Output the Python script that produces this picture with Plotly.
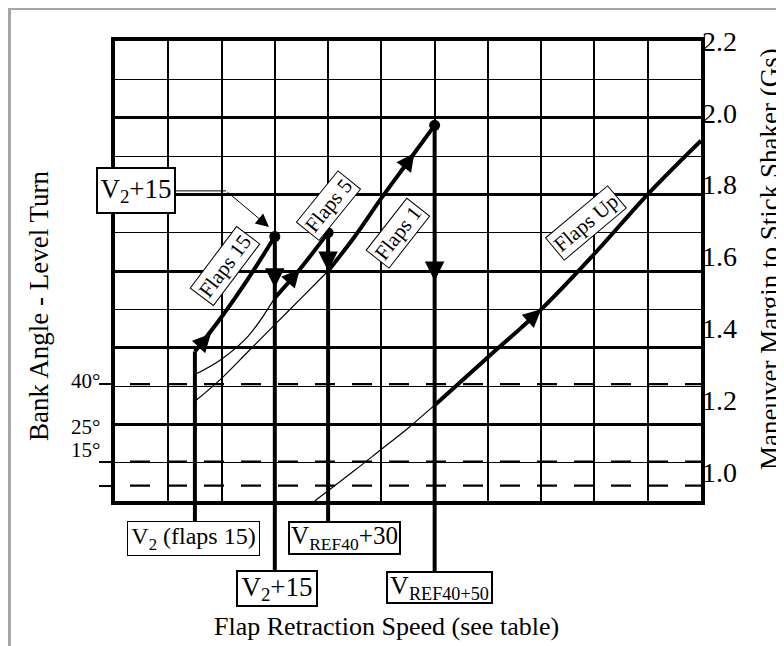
import plotly.graph_objects as go

# ---------------- data (speed in grid units, maneuver margin in G) ----------------
flaps15_speed = [1.5, 2.0, 2.5, 3.0]
flaps15_g = [1.39, 1.48, 1.58, 1.69]

flaps5_ext_speed = [1.5, 2.0, 2.5, 3.0]
flaps5_ext_g = [1.33, 1.37, 1.43, 1.53]
flaps5_speed = [3.0, 3.5, 4.0]
flaps5_g = [1.53, 1.61, 1.70]

flaps1_ext_speed = [1.5, 2.0, 2.5, 3.0, 3.5, 4.0]
flaps1_ext_g = [1.26, 1.32, 1.39, 1.46, 1.53, 1.60]
flaps1_speed = [4.0, 4.5, 5.0, 5.5, 6.0]
flaps1_g = [1.60, 1.69, 1.79, 1.885, 1.98]

flapsup_ext_speed = [3.75, 4.5, 5.0, 5.5, 6.0]
flapsup_ext_g = [1.0, 1.08, 1.135, 1.19, 1.25]
flapsup_speed = [6, 7, 8, 9, 10, 11]
flapsup_g = [1.25, 1.375, 1.50, 1.645, 1.80, 1.94]

# retraction speeds and the levels where the vertical lines stop
retract_names = ["V2 (flaps 15)", "V2+15", "VREF40+30", "VREF40+50"]
retract_speed = [1.5, 3.0, 4.0, 6.0]
retract_top_g = [1.39, 1.69, 1.70, 1.98]
dot_speed = [3.0, 4.0, 6.0]
dot_g = [1.69, 1.70, 1.98]

bank_labels = ["40°", "25°", "15°"]
bank_g = [1.305, 1.103, 1.04]

g_ticks = [1.0, 1.2, 1.4, 1.6, 1.8, 2.0, 2.2]
g_ticktext = ["1.0", "1.2", "1.4", "1.6", "1.8", "2.0", "2.2"]

# -----------------------------------------------------------------------------------
FONT = "Liberation Serif"
W, H = 784, 646
L, R, T, B = 107, 91, 33, 153
PW, PH = W - L - R, H - T - B


def px_x(p):
    return (p - L) / PW


def px_y(p):
    return (H - B - p) / PH


def u_x(p):
    return (p - L) / PW * 11


fig = go.Figure()

# bank-angle dashed reference lines
for g in bank_g:
    fig.add_trace(go.Scatter(x=[0, 11], y=[g, g], mode="lines",
                             line=dict(color="black", width=2.2, dash="0px,15px,20px,2px"),
                             hoverinfo="skip"))

thin = dict(color="black", width=1.2)
thick = dict(color="black", width=4)

fig.add_trace(go.Scatter(x=flaps5_ext_speed, y=flaps5_ext_g, mode="lines", line=thin, line_shape="spline"))
fig.add_trace(go.Scatter(x=flaps1_ext_speed, y=flaps1_ext_g, mode="lines", line=thin, line_shape="spline"))
fig.add_trace(go.Scatter(x=flapsup_ext_speed, y=flapsup_ext_g, mode="lines", line=thin, line_shape="spline"))

fig.add_trace(go.Scatter(x=flaps15_speed, y=flaps15_g, mode="lines", line=thick, line_shape="spline"))
fig.add_trace(go.Scatter(x=flaps5_speed, y=flaps5_g, mode="lines", line=thick, line_shape="spline"))
fig.add_trace(go.Scatter(x=flaps1_speed, y=flaps1_g, mode="lines", line=thick, line_shape="spline"))
fig.add_trace(go.Scatter(x=flapsup_speed, y=flapsup_g, mode="lines", line=thick, line_shape="spline"))

# vertical retraction-speed lines inside the plot
for s, top in zip(retract_speed, retract_top_g):
    fig.add_trace(go.Scatter(x=[s, s], y=[1.0, top], mode="lines", line=thick))

fig.add_trace(go.Scatter(x=dot_speed, y=dot_g, mode="markers",
                         marker=dict(color="black", size=11)))

# leader line of the V2+15 callout
fig.add_trace(go.Scatter(x=[u_x(167), u_x(218)], y=[1.809, 1.809], mode="lines",
                         line=dict(color="black", width=1)))

# invisible traces for the extra axes
fig.add_trace(go.Scatter(x=[0], y=[1.1], yaxis="y2", mode="markers",
                         marker=dict(opacity=0), hoverinfo="skip"))
fig.add_trace(go.Scatter(x=[0], y=[1.1], yaxis="y3", mode="markers",
                         marker=dict(opacity=0), hoverinfo="skip"))

# extension of the vertical lines below the plot down to the label boxes
box_top_px = [513, 562, 513, 563]
shapes = []
for s, bt in zip(retract_speed, box_top_px):
    shapes.append(dict(type="line", xref="x", yref="paper", x0=s, x1=s,
                       y0=px_y(bt), y1=0, line=dict(color="black", width=4)))
# gray page frame (left and top edges)
shapes.append(dict(type="rect", xref="paper", yref="paper", x0=px_x(0), x1=px_x(3),
                   y0=px_y(H), y1=px_y(0), fillcolor="#a6a6a6", line=dict(width=0)))
shapes.append(dict(type="rect", xref="paper", yref="paper", x0=px_x(0), x1=px_x(W),
                   y0=px_y(2), y1=px_y(0), fillcolor="#a6a6a6", line=dict(width=0)))

annotations = []


def arrow(x, y, ax, ay, width=3, size=1.2, head=2):
    annotations.append(dict(x=x, y=y, ax=ax, ay=ay, xref="x", yref="y", axref="x", ayref="y",
                            text="", showarrow=True, arrowhead=head, arrowsize=size,
                            arrowwidth=width, arrowcolor="black", standoff=0))


# direction arrows
arrow(1.8, 1.436, 1.55, 1.399)
arrow(3.47, 1.605, 3.2, 1.562)
arrow(5.62, 1.908, 5.3, 1.847)
arrow(8.0, 1.50, 7.6, 1.45)
arrow(3.0, 1.556, 3.0, 1.66, size=1.3)
arrow(4.0, 1.60, 4.0, 1.69, size=1.3)
arrow(6.0, 1.574, 6.0, 1.72, size=1.3)
# callout arrow
arrow(2.89, 1.715, u_x(218), 1.809, width=1, size=2.6)

# rotated flap labels
for txt, x, y, ang in [("Flaps 15", 2.065, 1.613, -53), ("Flaps 5", 4.0, 1.77, -51),
                       ("Flaps 1", 5.31, 1.70, -52), ("Flaps Up", 8.84, 1.725, -40)]:
    annotations.append(dict(x=x, y=y, xref="x", yref="y", text=txt, showarrow=False,
                            textangle=ang, font=dict(family=FONT, size=21, color="black"),
                            bgcolor="white", bordercolor="black", borderwidth=1, borderpad=2))

# callout box
annotations.append(dict(x=u_x(168), y=1.811, xref="x", yref="y", text="V<sub>2</sub>+15",
                        xanchor="right", yanchor="middle", width=72, height=39,
                        showarrow=False, font=dict(family=FONT, size=27, color="black"),
                        bgcolor="white", bordercolor="black", borderwidth=2, borderpad=2))

# bottom label boxes: text, centre x px, centre y px, border, font, width, height
bottom_boxes = [
    ("V<sub>2</sub> (flaps 15)", 185.5, 530.5, 1, 24, 129, 31),
    ("V<sub>REF40</sub>+30", 336.5, 530, 2, 25, 107, 28),
    ("V<sub>2</sub>+15", 269, 580.5, 2, 27, 76, 31),
    ("V<sub>REF40+50</sub>", 431.5, 579.5, 2, 26, 101, 27),
]
for txt, cx, cy, bw, fs, bwid, bht in bottom_boxes:
    annotations.append(dict(x=px_x(cx), y=px_y(cy), xref="paper", yref="paper", text=txt,
                            xanchor="center", yanchor="middle", width=bwid, height=bht,
                            showarrow=False, font=dict(family=FONT, size=fs, color="black"),
                            bgcolor="white", bordercolor="black", borderwidth=bw, borderpad=1))

# bank-angle labels
for txt, py in zip(bank_labels, [373, 419, 442]):
    annotations.append(dict(x=px_x(94), y=px_y(py), xref="paper", yref="paper", text=txt,
                            xanchor="right", yanchor="middle", showarrow=False,
                            font=dict(family=FONT, size=21, color="black")))

# titles
annotations.append(dict(x=px_x(378), y=px_y(618), xref="paper", yref="paper",
                        xanchor="center", yanchor="middle",
                        text="Flap Retraction Speed (see table)", showarrow=False,
                        font=dict(family=FONT, size=26, color="black")))
annotations.append(dict(x=px_x(31), y=px_y(298), xref="paper", yref="paper",
                        xanchor="center", yanchor="middle",
                        text="Bank Angle - Level Turn", showarrow=False, textangle=-90,
                        font=dict(family=FONT, size=27, color="black")))
annotations.append(dict(x=px_x(762), y=px_y(251), xref="paper", yref="paper",
                        xanchor="center", yanchor="middle",
                        text="Maneuver Margin to Stick Shaker (Gs)", showarrow=False, textangle=-90,
                        font=dict(family=FONT, size=27, color="black")))

fig.update_layout(
    width=W, height=H, autosize=False,
    margin=dict(l=L, r=R, t=T, b=B, pad=0),
    paper_bgcolor="white", plot_bgcolor="white", showlegend=False,
    font=dict(family=FONT, color="black"),
    xaxis=dict(range=[0, 11], dtick=1, tick0=0, showgrid=True, gridcolor="black", gridwidth=2,
               showticklabels=False, ticks="", showline=True, linecolor="black", linewidth=4,
               mirror=True, zeroline=False, fixedrange=True),
    yaxis=dict(range=[1.0, 2.2], side="right", tickvals=g_ticks, showticklabels=False,
               showgrid=True, gridcolor="black", gridwidth=2.5,
               minor=dict(tick0=1.0, dtick=0.1, showgrid=True, gridcolor="black", gridwidth=1.3),
               ticks="", showline=True, linecolor="black", linewidth=4, mirror=True,
               zeroline=False),
    yaxis2=dict(range=[1.0, 2.2], overlaying="y", side="left", tickvals=bank_g,
                showticklabels=False, showgrid=False, zeroline=False, ticks="outside",
                ticklen=15, tickwidth=2, tickcolor="black"),
    yaxis3=dict(range=[0.919, 2.2], overlaying="y", side="right", tickvals=g_ticks,
                ticktext=g_ticktext, showgrid=False, zeroline=False, showline=False, ticks="",
                tickfont=dict(family=FONT, size=28, color="black"), ticklabelstandoff=0),
    shapes=shapes,
    annotations=annotations,
)

fig.write_html("out.html")
